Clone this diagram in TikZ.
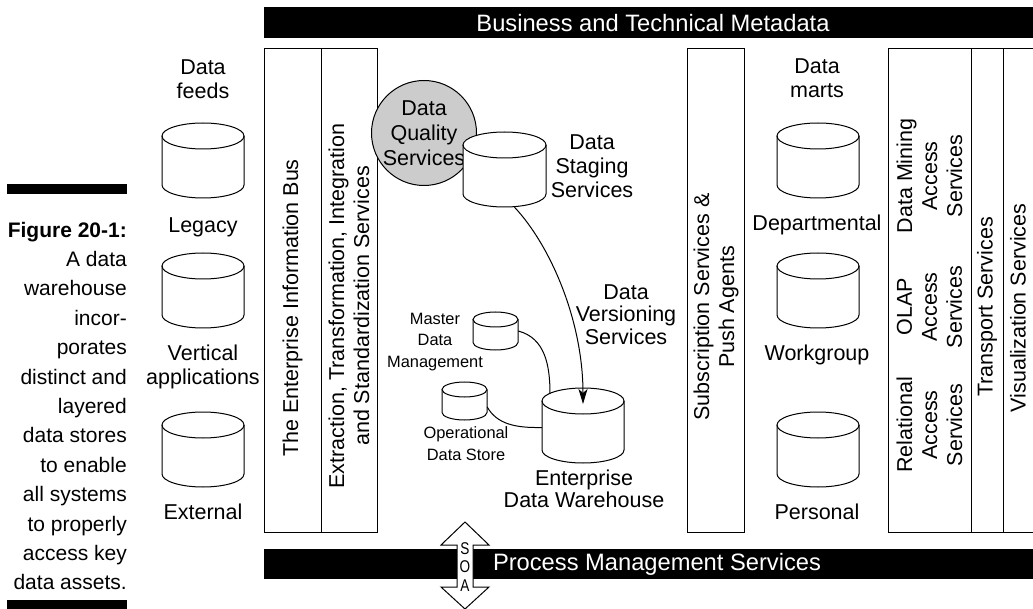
\documentclass[tikz,border=0pt]{standalone}
\usepackage{fontspec}
\setmainfont{Liberation Sans}
\newfontfamily\narrowfont{Liberation Sans}[FakeStretch=0.8]
\usetikzlibrary{arrows.meta,calc}
\definecolor{dqgray}{RGB}{204,204,204}
\tikzset{
  box/.style={draw, line width=1pt, inner sep=0pt},
  lbl/.style={font=\fontsize{21.5}{23.5}\selectfont, align=center, inner sep=0pt},
  vlbl/.style={font=\fontsize{21.5}{25}\selectfont, align=center, inner sep=0pt, rotate=90},
  smalllbl/.style={font=\fontsize{16.4}{21.5}\selectfont, align=center, inner sep=0pt},
  barfill/.style={fill=black, inner sep=0pt},
  bartext/.style={text=white, font=\fontsize{23.7}{26}\selectfont, inner sep=0pt},
  conn/.style={line width=1pt},
  pics/dbcyl/.style n args={3}{code={
    \path[fill=white] (-#1,-#2+#3) -- (-#1,#2-#3) arc[start angle=180,end angle=360,x radius=#1pt,y radius=#3pt] -- (#1,-#2+#3) arc[start angle=0,end angle=180,x radius=#1pt,y radius=#3pt] -- cycle;
    \draw[line width=1pt] (-#1,-#2+#3) -- (-#1,#2-#3) arc[start angle=180,end angle=360,x radius=#1pt,y radius=#3pt] -- (#1,-#2+#3);
    \draw[line width=1pt] (0,-#2+#3) ellipse[x radius=#1pt,y radius=#3pt];
    \node[inner sep=0pt, minimum width=2*#1pt, minimum height=2*#2pt] (-c) at (0,0) {};
    \coordinate (-top) at (0,-#2+#3);
  }},
}
\begin{document}
\begin{tikzpicture}[x=1pt,y=-1pt]
\useasboundingbox[fill=white] (0,0) rectangle (1033,609);
% caption
\node[barfill, minimum width=120pt, minimum height=10pt] (capbartop) at (67,189.5) {};
\node[barfill, minimum width=120pt, minimum height=10pt] (capbarbot) at (67,605) {};
\node[lbl, font=\fontsize{21}{29.4}\selectfont, align=right, anchor=east] (caption) at (127,406)
  {\textbf{Figure 20-1:}\\A data\\warehouse\\incor-\\porates\\distinct and\\layered\\data stores\\to enable\\all systems\\to properly\\access key\\data assets.};
% bars
\node[barfill, minimum width=770pt, minimum height=31pt] (meta) at (649,22.5) {};
\node[bartext] (metat) at (653,23) {Business and Technical Metadata};
\node[barfill, minimum width=770pt, minimum height=30pt] (pms) at (649,564) {};
\node[bartext] (pmst) at (657,564) {Process Management Services};
% columns
\node[box, minimum width=57pt, minimum height=483pt] (eib) at (292.5,290.5) {};
\node[box, minimum width=56pt, minimum height=483pt] (eti) at (349,290.5) {};
\node[box, minimum width=57pt, minimum height=483pt] (sub) at (715.5,290.5) {};
\node[box, minimum width=83pt, minimum height=483pt] (acc) at (929.5,290.5) {};
\node[box, minimum width=32pt, minimum height=483pt] (trn) at (987,290.5) {};
\node[box, minimum width=32pt, minimum height=483pt] (vis) at (1019,290.5) {};
\node[vlbl] (eibt) at (292.5,308) {The Enterprise Information Bus};
\node[vlbl] (etit) at (349,306) {Extraction, Transformation, Integration\\and Standardization Services};
\node[vlbl] (subt) at (716,307) {Subscription Services \&\\Push Agents};
\node[vlbl] (dmt) at (929.5,176) {Data Mining\\Access\\Services};
\node[vlbl] (olapt) at (929.5,307) {OLAP\\Access\\Services};
\node[vlbl] (relt) at (929.5,425) {Relational\\Access\\Services};
\node[vlbl] (trnt) at (987,307) {Transport Services};
\node[vlbl] (vist) at (1018,308) {Visualization Services};
% data feeds
\node[lbl] (feeds) at (203,79) {Data\\feeds};
\pic (legacy) at (203,160.5) {dbcyl={41}{37.5}{13}};
\node[lbl] (legacyl) at (203,227) {Legacy};
\pic (vert) at (203,290.5) {dbcyl={41}{37.5}{13}};
\node[lbl] (vertl) at (203,367) {Vertical\\applications};
\pic (ext) at (203,449.5) {dbcyl={41}{37.5}{13}};
\node[lbl] (extl) at (203,512) {External};
% data marts
\node[lbl] (marts) at (817,78) {Data\\marts};
\pic (dept) at (818,160.5) {dbcyl={41}{37.5}{13}};
\node[lbl] (deptl) at (817,225) {Departmental};
\pic (wg) at (818,290.5) {dbcyl={41}{37.5}{13}};
\node[lbl] (wgl) at (817,355) {Workgroup};
\pic (pers) at (818,449.5) {dbcyl={41}{37.5}{13}};
\node[lbl] (persl) at (817,512) {Personal};
% centre
\node[circle, draw, line width=1pt, fill=dqgray, minimum size=100pt, lbl, font=\fontsize{21.5}{25}\selectfont] (dqs) at (424,133) {Data\\Quality\\Services};
\pic (stage) at (504.5,169.5) {dbcyl={41.5}{37.5}{13}};
\node[lbl, font=\fontsize{21.5}{24}\selectfont] (stagel) at (592,166) {Data\\Staging\\Services};
\node[lbl, font=\fontsize{21.5}{22.5}\selectfont] (versl) at (626,314.5) {Data\\Versioning\\Services};
\pic (mdm) at (495.5,331) {dbcyl={22.5}{19}{7.5}};
\node[smalllbl] (mdml) at (435,342) {Master\\Data\\Management};
\pic (ods) at (464.5,401) {dbcyl={22.5}{19}{7.5}};
\node[smalllbl] (odsl) at (466,443.5) {Operational\\Data Store};
\pic (edw) at (583,425.5) {dbcyl={41}{37.5}{13}};
\node[lbl, font=\fontsize{21.5}{22}\selectfont] (edwl) at (584,489) {Enterprise\\Data Warehouse};
% connectors
\draw[conn, -{Stealth[length=15pt,width=9pt,inset=4pt]}] ([xshift=10pt]stage-c.south) .. controls (550,245) and (583,320) .. ([yshift=-3pt]edw-top);
\draw[conn] (mdm-c.east) .. controls (545,338) and (550,365) .. ($(edw-top)+(-33,-7)$);
\draw[conn] ([yshift=-6pt]ods-c.east) .. controls (497,424) and (515,428) .. ([yshift=-2pt]edw-c.west);
% SOA arrow
\draw[line width=1pt, fill=white] (465,522) -- (489,545) -- (473,545) -- (473,587) -- (489,587) -- (465,609) -- (441,587) -- (457,587) -- (457,545) -- (441,545) -- cycle;
\node[font=\narrowfont\fontsize{17}{18.5}\selectfont, align=center, inner sep=0pt] (soa) at (465,567) {S\\O\\A};
\end{tikzpicture}
\end{document}
